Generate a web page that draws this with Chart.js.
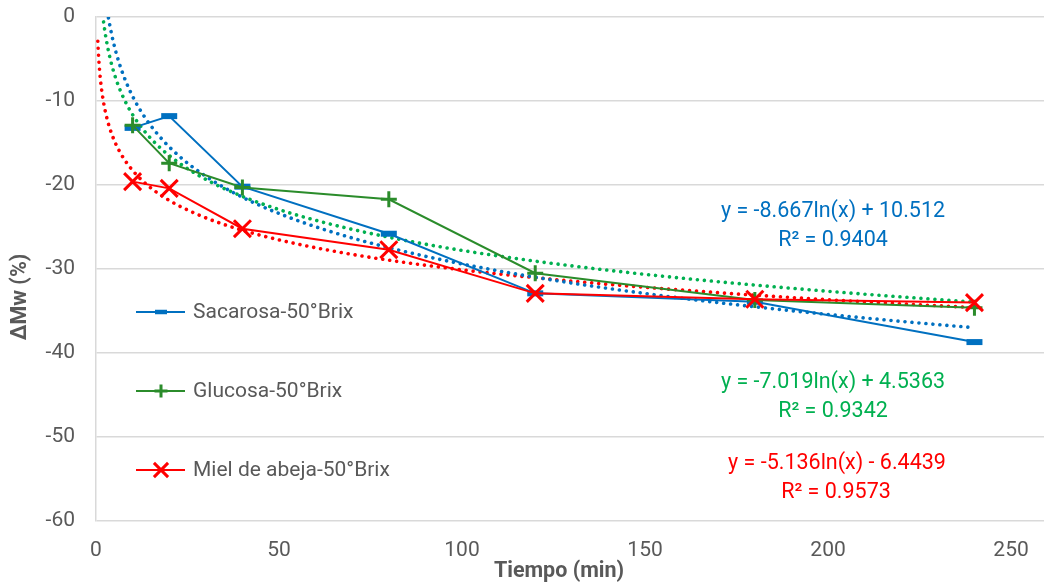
<!DOCTYPE html>
<html><head><meta charset="utf-8">
<script src="https://cdn.jsdelivr.net/npm/chart.js@4.4.1/dist/chart.umd.min.js"></script>
<style>html,body{margin:0;padding:0;background:#fff}#wrap{position:relative;width:1044px;height:586px}</style>
</head><body><div id="wrap"><canvas id="c" width="1044" height="586"></canvas></div>
<script>
// ---- data ----
const times = [10, 20, 40, 80, 120, 180, 240];
const sacarosa = [-13.2, -11.8, -20.2, -25.8, -32.9, -33.9, -38.7];
const glucosa  = [-12.9, -17.4, -20.3, -21.7, -30.5, -33.7, -34.6];
const miel     = [-19.6, -20.4, -25.2, -27.7, -32.9, -33.6, -34.0];
const seriesNames = ['Sacarosa-50°Brix', 'Glucosa-50°Brix', 'Miel de abeja-50°Brix'];
const xTicks = [0, 50, 100, 150, 200, 250];
const yTicks = [0, -10, -20, -30, -40, -50, -60];
// logarithmic trendlines as shown on the chart: y = a ln(x) + b
const trendA = [-8.667, -7.019, -5.136];
const trendB = [10.512, 4.5363, -6.4439];
const trendEq = ['y = -8.667ln(x) + 10.512', 'y = -7.019ln(x) + 4.5363', 'y = -5.136ln(x) - 6.4439'];
const trendR2 = ['R² = 0.9404', 'R² = 0.9342', 'R² = 0.9573'];
const trendFrom = 0.5, trendTo = 240;

// ---- styles ----
const lineColors  = ['#0070C0', '#2B8C2B', '#FF0000'];
const trendColors = ['#0070C0', '#00B050', '#FF0000'];
const FONT = 'Roboto';
const TXT = '#595959';

const seriesVals = [sacarosa, glucosa, miel];
const markers = [
  {style: 'line', r: 8, w: 6, lr: 6, lw: 4.5},
  {style: 'cross', r: 8, w: 3, lr: 6.5, lw: 3},
  {style: 'crossRot', r: 12, w: 3, lr: 10, lw: 3}
];

function trendPoints(a, b) {
  const pts = [];
  const n = 240;
  for (let i = 0; i <= n; i++) {
    const x = trendFrom * Math.pow(trendTo / trendFrom, i / n);
    pts.push({x: x, y: a * Math.log(x) + b});
  }
  return pts;
}

const datasets = [];
seriesVals.forEach((vals, k) => {
  datasets.push({
    label: seriesNames[k],
    data: times.map((t, i) => ({x: t, y: vals[i]})),
    showLine: true,
    borderColor: lineColors[k],
    backgroundColor: lineColors[k],
    borderWidth: 2,
    pointStyle: markers[k].style,
    pointRadius: markers[k].r,
    pointHoverRadius: markers[k].r,
    pointBorderWidth: markers[k].w,
    pointBorderColor: lineColors[k],
    pointBackgroundColor: lineColors[k],
    order: 3 - k
  });
});
trendA.forEach((a, k) => {
  datasets.push({
    label: 'trend' + k,
    data: trendPoints(a, trendB[k]),
    showLine: true,
    borderColor: trendColors[k],
    borderWidth: 3.6,
    borderDash: [0.01, 7],
    borderCapStyle: 'round',
    pointRadius: 0,
    pointHoverRadius: 0,
    order: 10 + k
  });
});

const decor = {
  id: 'decor',
  afterDraw(chart) {
    const ctx = chart.ctx;
    ctx.save();
    // legend
    const ly = [312, 391, 470];
    seriesNames.forEach((name, k) => {
      ctx.strokeStyle = lineColors[k];
      ctx.lineWidth = 2;
      ctx.lineCap = 'butt';
      ctx.setLineDash([]);
      ctx.beginPath();
      ctx.moveTo(136, ly[k]);
      ctx.lineTo(185, ly[k]);
      ctx.stroke();
      ctx.fillStyle = lineColors[k];
      ctx.lineWidth = markers[k].lw;
      Chart.helpers.drawPoint(ctx, {pointStyle: markers[k].style, radius: markers[k].lr, rotation: 0, borderWidth: markers[k].lw}, 161, ly[k]);
      ctx.fillStyle = TXT;
      ctx.font = '21px ' + FONT;
      ctx.textAlign = 'left';
      ctx.textBaseline = 'middle';
      ctx.fillText(name, 193, ly[k] + 1);
    });
    // equations
    const eq = [[833, 212, 833, 241], [833, 383, 833, 412], [837, 464, 836, 493]];
    ctx.font = '21.5px ' + FONT;
    ctx.textAlign = 'center';
    ctx.textBaseline = 'middle';
    trendEq.forEach((t, k) => {
      ctx.fillStyle = trendColors[k];
      ctx.fillText(t, eq[k][0], eq[k][1]);
      ctx.fillText(trendR2[k], eq[k][2], eq[k][3]);
    });
    // axis titles
    ctx.fillStyle = TXT;
    ctx.font = 'bold 21.5px ' + FONT;
    ctx.textAlign = 'center';
    ctx.textBaseline = 'middle';
    ctx.fillText('Tiempo (min)', 559, 572);
    ctx.translate(21, 297);
    ctx.rotate(-Math.PI / 2);
    ctx.fillText('ΔMw (%)', 0, 0);
    ctx.restore();
  }
};

new Chart(document.getElementById('c'), {
  type: 'scatter',
  data: {datasets: datasets},
  options: {
    responsive: false,
    animation: false,
    events: [],
    layout: {autoPadding: false, padding: {top: 17, right: 0, left: 0, bottom: 0}},
    plugins: {legend: {display: false}, tooltip: {enabled: false}},
    scales: {
      x: {
        type: 'linear', min: 0, max: 259,
        afterBuildTicks: s => { s.ticks = xTicks.map(v => ({value: v})); },
        afterFit: s => { s.height = 65; s.paddingLeft = 0; s.paddingRight = 0; },
        grid: {display: false, drawTicks: false},
        border: {display: false},
        ticks: {font: {family: FONT, size: 21}, color: TXT, padding: 17, maxRotation: 0}
      },
      y: {
        type: 'linear', min: -60, max: 0,
        afterBuildTicks: s => { s.ticks = yTicks.map(v => ({value: v})); },
        afterFit: s => { s.width = 96; s.paddingTop = 0; s.paddingBottom = 0; },
        grid: {color: '#D9D9D9', lineWidth: 1.5, drawTicks: false},
        border: {display: true, color: '#D9D9D9', width: 1.5},
        ticks: {font: {family: FONT, size: 21}, color: TXT, padding: 21}
      }
    }
  },
  plugins: [decor]
});
</script></body></html>
